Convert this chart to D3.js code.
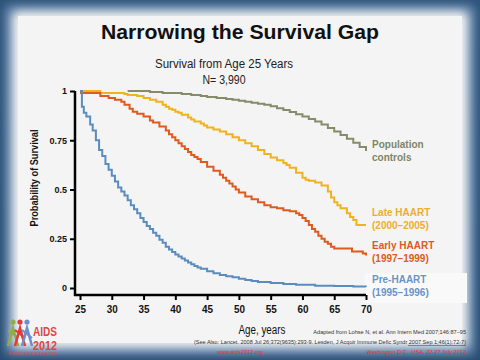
<!DOCTYPE html>
<html><head><meta charset="utf-8">
<script src="https://cdn.jsdelivr.net/npm/d3@7"></script>
<style>body{margin:0;}svg{display:block;}</style>
</head><body>
<svg id="c" width="480" height="360"></svg>
<script>
const preHAART = [[25,1.0],[25.3,0.92],[25.6,0.89],[26,0.87],[26.6,0.83],[27,0.80],[27.5,0.75],[28,0.70],[28.5,0.67],[29,0.63],[29.5,0.60],[30,0.57],[30.5,0.54],[31,0.51],[31.5,0.49],[32,0.47],[32.5,0.445],[33,0.42],[33.5,0.40],[34,0.38],[34.5,0.355],[35,0.335],[35.5,0.315],[36,0.30],[36.5,0.28],[37,0.265],[37.5,0.245],[38,0.23],[38.5,0.21],[39,0.195],[39.5,0.183],[40,0.17],[40.5,0.16],[41,0.15],[41.5,0.14],[42,0.13],[42.5,0.12],[43,0.112],[43.5,0.104],[44,0.098],[45,0.085],[46,0.075],[47,0.066],[48,0.06],[49,0.054],[50,0.047],[51,0.041],[52,0.036],[53,0.031],[55,0.025],[57,0.02],[59,0.016],[62,0.012],[65,0.01],[68,0.007],[70,0.006]];
const earlyHAART = [[25,0.99],[28.2,0.975],[29.5,0.965],[30.5,0.955],[31.5,0.945],[32,0.93],[32.8,0.91],[33.3,0.895],[34,0.885],[35,0.87],[36,0.85],[36.5,0.84],[37.5,0.82],[38.5,0.80],[39,0.78],[39.5,0.765],[40,0.75],[40.5,0.735],[41,0.72],[41.5,0.705],[42,0.69],[42.5,0.675],[43,0.665],[43.5,0.655],[44,0.64],[45,0.615],[46,0.595],[47,0.575],[47.5,0.56],[48,0.545],[48.5,0.53],[49,0.515],[49.5,0.50],[50,0.485],[51,0.465],[52,0.45],[53,0.435],[54,0.42],[55,0.41],[56,0.405],[57,0.395],[58,0.39],[59,0.38],[59.5,0.37],[60,0.355],[60.5,0.34],[61,0.32],[61.5,0.30],[62,0.285],[62.5,0.265],[63,0.25],[63.5,0.235],[64,0.225],[64.5,0.21],[65,0.20],[67.8,0.185],[69.5,0.175],[70,0.165]];
const lateHAART = [[25,1.0],[28.2,0.99],[32,0.985],[32.5,0.98],[34,0.975],[35,0.965],[36,0.955],[37,0.945],[38,0.93],[38.5,0.92],[39,0.91],[39.5,0.905],[40,0.895],[40.5,0.89],[41,0.88],[42,0.865],[42.5,0.855],[43,0.845],[44,0.835],[44.5,0.825],[45,0.815],[46,0.805],[47,0.795],[48,0.78],[49,0.765],[50,0.75],[51,0.735],[52,0.72],[53,0.70],[54,0.68],[55,0.662],[56,0.648],[57,0.635],[57.5,0.625],[58,0.61],[59,0.585],[60,0.56],[60.5,0.55],[61,0.545],[62,0.535],[63,0.52],[64,0.49],[64.5,0.46],[65,0.435],[65.5,0.42],[66,0.405],[67,0.38],[67.5,0.36],[68,0.345],[68.5,0.32],[70,0.32]];
const popControls = [[32.5,1.0],[36,0.995],[38,0.99],[41,0.985],[42.5,0.98],[44,0.975],[45,0.97],[46.5,0.965],[48,0.96],[49,0.955],[50,0.95],[51,0.945],[52,0.94],[53,0.935],[54,0.93],[55,0.922],[56,0.913],[57,0.904],[58,0.893],[59,0.882],[60,0.87],[61,0.858],[62,0.845],[63,0.83],[64,0.812],[65,0.795],[66,0.777],[67,0.757],[68,0.737],[69,0.716],[70,0.695]];
const xTicks = [25,30,35,40,45,50,55,60,65,70];
const yTicks = [0,0.25,0.5,0.75,1];
const yTickLabels = ["0","0.25","0.5","0.75","1"];
const seriesNames = [["Population","controls"],["Late HAART","(2000\u20132005)"],["Early HAART","(1997\u20131999)"],["Pre-HAART","(1995\u20131996)"]];

const svg = d3.select("#c");
const defs = svg.append("defs");
defs.append("filter").attr("id","blur").attr("x","-10%").attr("y","-10%").attr("width","120%").attr("height","120%")
  .append("feGaussianBlur").attr("stdDeviation",5);
const bg = defs.append("linearGradient").attr("id","bgGrad").attr("x1",0).attr("y1",0).attr("x2",0).attr("y2",1);
bg.append("stop").attr("offset","0%").attr("stop-color","#2d5178");
bg.append("stop").attr("offset","100%").attr("stop-color","#274a70");

svg.append("rect").attr("width",480).attr("height",360).attr("fill","url(#bgGrad)");
svg.append("rect").attr("x",4).attr("y",4).attr("width",472).attr("height",352).attr("rx",6).attr("fill","#5b7fa6").attr("filter","url(#blur)");
svg.append("rect").attr("x",12).attr("y",11).attr("width",456).attr("height",337).attr("rx",6).attr("fill","#f3f3f3").attr("filter","url(#blur)");
svg.append("rect").attr("x",18).attr("y",16).attr("width",444).attr("height",327).attr("fill","#f4f4f4");

const font = "'Liberation Sans', Arial, sans-serif";

svg.append("text").attr("x",240).attr("y",39).attr("text-anchor","middle")
  .attr("font-family",font).attr("font-weight","bold").attr("font-size",21).attr("fill","#111")
  .attr("textLength",278).attr("lengthAdjust","spacingAndGlyphs")
  .text("Narrowing  the Survival Gap");
svg.append("text").attr("x",224).attr("y",68).attr("text-anchor","middle")
  .attr("font-family",font).attr("font-size",12).attr("fill","#222")
  .attr("textLength",138).attr("lengthAdjust","spacingAndGlyphs")
  .text("Survival from Age 25 Years");
svg.append("text").attr("x",224).attr("y",84).attr("text-anchor","middle")
  .attr("font-family",font).attr("font-size",12).attr("fill","#222")
  .attr("textLength",43).attr("lengthAdjust","spacingAndGlyphs")
  .text("N= 3,990");

const x = d3.scaleLinear().domain([25,70]).range([80,366]);
const y = d3.scaleLinear().domain([0,1]).range([288,91]);

// faint box behind Pre-HAART label
svg.append("rect").attr("x",365).attr("y",273).attr("width",102).attr("height",30).attr("fill","#f9f9f9");

// axes
const gx = svg.append("g").attr("transform",`translate(0,${y(0)+7})`)
  .call(d3.axisBottom(x).tickValues(xTicks).tickSize(5).tickSizeOuter(0).tickPadding(5));
gx.select(".domain").remove();
gx.selectAll(".tick line").attr("stroke","#000").attr("stroke-width",2);
gx.selectAll(".tick text").attr("font-family",font).attr("font-weight","bold").attr("font-size",11).attr("fill","#111")
  .attr("textLength",11).attr("lengthAdjust","spacingAndGlyphs");

const gy = svg.append("g").attr("transform",`translate(${x(25)-5},0)`)
  .call(d3.axisLeft(y).tickValues(yTicks).tickFormat((d,i)=>yTickLabels[i]).tickSize(5).tickSizeOuter(0).tickPadding(3));
gy.select(".domain").remove();
gy.selectAll(".tick line").attr("stroke","#000").attr("stroke-width",2);
gy.selectAll(".tick text").attr("font-family",font).attr("font-size",9).attr("fill","#111").attr("font-weight","bold");

svg.append("line").attr("x1",x(25)-5).attr("x2",x(25)-5).attr("y1",y(1)).attr("y2",y(0)+8).attr("stroke","#000").attr("stroke-width",2.5);
svg.append("line").attr("x1",x(25)-6).attr("x2",x(70)).attr("y1",y(0)+7).attr("y2",y(0)+7).attr("stroke","#000").attr("stroke-width",2.5);

svg.append("text").attr("transform",`translate(38,178) rotate(-90)`).attr("text-anchor","middle")
  .attr("font-family",font).attr("font-weight","bold").attr("font-size",10.5).attr("fill","#111")
  .attr("textLength",97).attr("lengthAdjust","spacingAndGlyphs")
  .text("Probability of Survival");
svg.append("text").attr("x",262).attr("y",334).attr("text-anchor","middle")
  .attr("font-family",font).attr("font-size",12.5).attr("fill","#111")
  .attr("textLength",47).attr("lengthAdjust","spacingAndGlyphs")
  .text("Age, years");

// curves
const line = d3.line().x(d=>x(d[0])).y(d=>y(d[1])).curve(d3.curveStepAfter);
const series = [
  {data: popControls, color:"#868b69"},
  {data: lateHAART, color:"#f0b21f"},
  {data: earlyHAART, color:"#df5a1c"},
  {data: preHAART, color:"#5b8cc0"}
];
series.forEach(s=>{
  svg.append("path").attr("d",line(s.data)).attr("fill","none").attr("stroke",s.color).attr("stroke-width",2);
});

// labels
const labelColors = ["#7f8666","#eeae2c","#dd5a22","#6a93c8"];
const labelY = [148,216,249,283];
seriesNames.forEach((n,i)=>{
  const t = svg.append("text").attr("font-family",font).attr("font-size",10).attr("fill",labelColors[i]).attr("font-weight","bold");
  t.append("tspan").attr("x",372).attr("y",labelY[i]).text(n[0]);
  t.append("tspan").attr("x",372).attr("y",labelY[i]+13).text(n[1]);
});

// footnotes
svg.append("text").attr("x",466).attr("y",334).attr("text-anchor","end")
  .attr("font-family",font).attr("font-size",5.6).attr("fill","#333")
  .text("Adapted from Lohse N, et al.  Ann Intern Med 2007;146:87\u201395");
svg.append("text").attr("x",466).attr("y",344).attr("text-anchor","end")
  .attr("font-family",font).attr("font-size",5.6).attr("fill","#333")
  .attr("textLength",272).attr("lengthAdjust","spacingAndGlyphs")
  .text("(See Also:  Lancet. 2008 Jul 26;372(9635):293-9.  Lesden, J Acquir Immune Defic Syndr 2007 Sep 1;46(1):72-7)");
svg.append("line").attr("x1",408).attr("x2",466).attr("y1",345.5).attr("y2",345.5).attr("stroke","#333").attr("stroke-width",0.5);
svg.append("text").attr("x",240).attr("y",354).attr("text-anchor","middle")
  .attr("font-family",font).attr("font-size",5.6).attr("fill","#e03030")
  .text("www.aids2012.org");
svg.append("text").attr("x",466).attr("y",354).attr("text-anchor","end")
  .attr("font-family",font).attr("font-size",5.6).attr("fill","#e03030")
  .text("Washington D.C., USA, 22-27 July 2012");

// logo
const logo = svg.append("g");
const figs = [[13,"#8fae4a"],[20,"#e03c3c"],[27,"#6d8fd0"]];
figs.forEach(f=>{
  logo.append("circle").attr("cx",f[0]).attr("cy",322).attr("r",2.6).attr("fill",f[1]);
  logo.append("path").attr("d",`M${f[0]-5},${346} L${f[0]},${328} L${f[0]+5},${346}`).attr("fill","none").attr("stroke",f[1]).attr("stroke-width",2.6);
  logo.append("path").attr("d",`M${f[0]-5},${330} L${f[0]+5},${338}`).attr("fill","none").attr("stroke",f[1]).attr("stroke-width",2.2);
});
logo.append("text").attr("x",33).attr("y",336).attr("font-family",font).attr("font-size",12).attr("font-weight","bold").attr("fill","#e04545")
  .attr("textLength",24).attr("lengthAdjust","spacingAndGlyphs").text("AIDS");
logo.append("text").attr("x",33).attr("y",350).attr("font-family",font).attr("font-size",12).attr("font-weight","bold").attr("fill","#e04545")
  .attr("textLength",24).attr("lengthAdjust","spacingAndGlyphs").text("2012");
logo.append("text").attr("x",8).attr("y",354.5).attr("font-family",font).attr("font-size",3.2).attr("fill","#e04545")
  .attr("textLength",49).attr("lengthAdjust","spacingAndGlyphs").text("TURNING THE TIDE TOGETHER");
</script>
</body></html>
